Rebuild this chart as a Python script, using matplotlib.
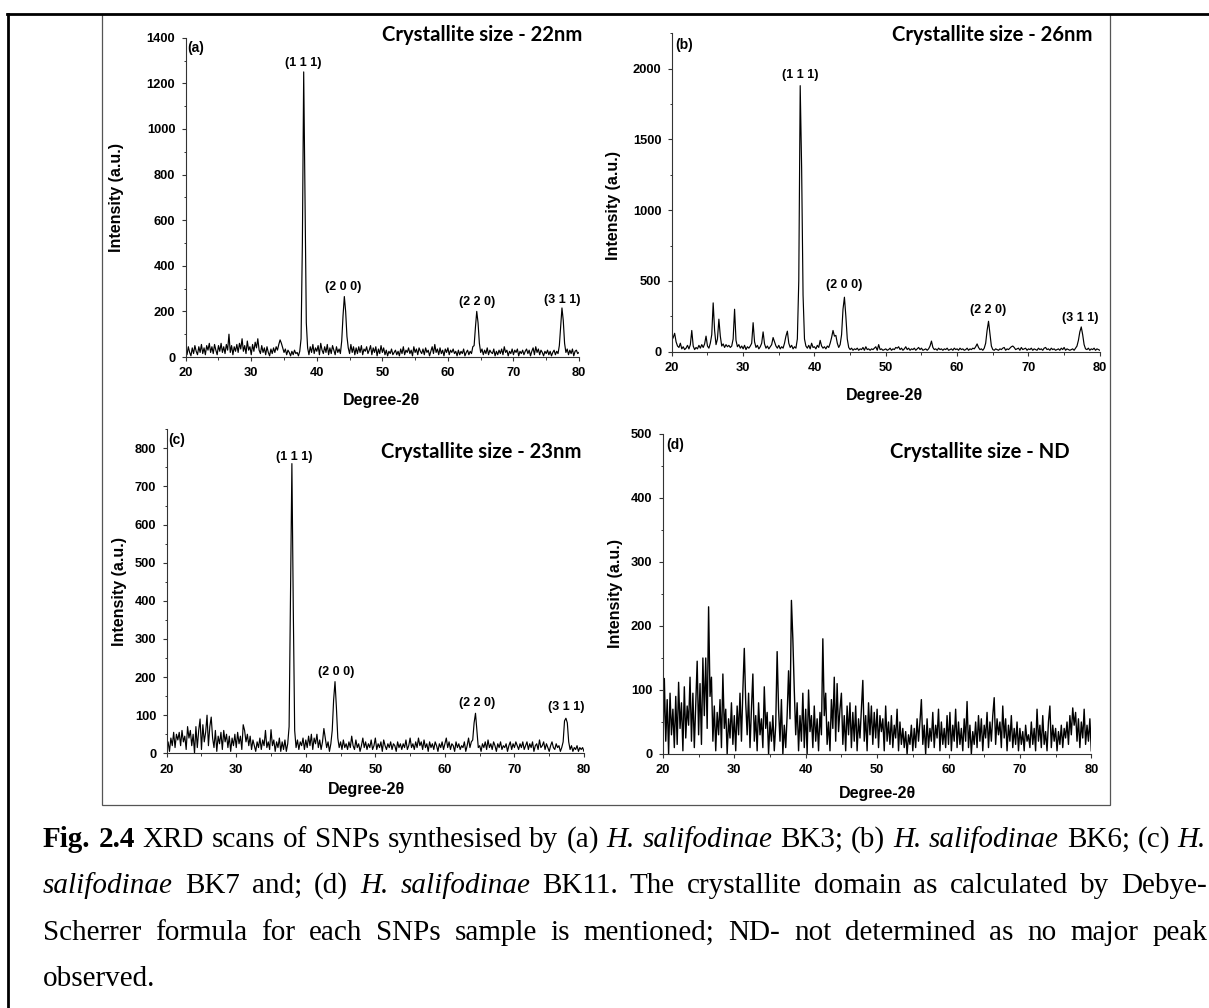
import numpy as np
import matplotlib
matplotlib.use('Agg')  # headless
import matplotlib.pyplot as plt
from matplotlib.lines import Line2D
from matplotlib.patches import Rectangle

# --- canvas ---
W, H, DPI = 1209, 1008, 100

# --- data: 2-theta grid (0.2 deg steps) and read-off intensities ---
TWO_THETA = np.round(np.arange(20.0, 80.01, 0.2), 1)

INT_A = [
    35, 10, 45, 20, 5, 40, 15, 50, 25, 10,
    45, 20, 55, 15, 40, 10, 50, 30, 60, 20,
    45, 15, 55, 30, 10, 50, 25, 60, 20, 45,
    15, 55, 30, 100, 20, 50, 10, 45, 25, 55,
    20, 60, 35, 80, 25, 50, 15, 70, 30, 45,
    10, 55, 25, 65, 40, 80, 30, 15, 50, 20,
    40, 10, 45, 20, 5, 35, 15, 40, 20, 45,
    30, 55, 75, 60, 40, 20, 35, 10, 30, 20,
    5, 25, 10, 30, 15, 20, 5, 25, 80, 500,
    1250, 700, 150, 40, 10, 45, 20, 55, 15, 40,
    25, 50, 10, 60, 30, 15, 45, 20, 55, 10,
    40, 15, 50, 30, 10, 45, 20, 35, 15, 70,
    180, 265, 200, 90, 40, 15, 55, 20, 45, 10,
    40, 15, 45, 20, 50, 10, 35, 25, 45, 15,
    30, 50, 10, 40, 20, 45, 5, 35, 15, 50,
    20, 40, 10, 30, 5, 25, 15, 35, 10, 20,
    30, 10, 25, 5, 35, 15, 45, 10, 30, 20,
    40, 15, 30, 5, 45, 20, 35, 10, 40, 25,
    15, 35, 10, 40, 20, 30, 5, 25, 45, 15,
    55, 20, 35, 10, 40, 15, 30, 5, 35, 20,
    40, 10, 30, 20, 35, 15, 25, 5, 30, 10,
    25, 15, 35, 5, 20, 30, 10, 25, 15, 45,
    50, 130, 200, 150, 60, 20, 35, 10, 30, 15,
    40, 10, 30, 20, 15, 35, 5, 25, 10, 30,
    15, 35, 10, 45, 20, 30, 5, 25, 15, 35,
    10, 30, 20, 35, 5, 25, 15, 30, 10, 25,
    35, 15, 30, 5, 25, 40, 10, 45, 20, 35,
    10, 30, 20, 5, 25, 15, 30, 10, 25, 5,
    20, 30, 10, 25, 15, 50, 130, 215, 160, 60,
    20, 35, 10, 30, 15, 35, 5, 25, 30, 15,
    20,
]

INT_B = [
    80, 100, 130, 70, 40, 30, 60, 20, 35, 15,
    25, 45, 20, 50, 150, 40, 15, 30, 20, 45,
    25, 50, 30, 55, 110, 40, 25, 60, 120, 345,
    150, 50, 90, 230, 110, 40, 55, 30, 50, 35,
    45, 30, 40, 90, 300, 80, 35, 50, 25, 40,
    20, 45, 15, 35, 25, 40, 60, 205, 70, 30,
    45, 20, 35, 60, 140, 55, 25, 40, 20, 35,
    50, 100, 70, 40, 25, 45, 20, 35, 25, 60,
    110, 145, 60, 30, 45, 20, 35, 25, 90, 500,
    1880, 1300, 400, 90, 40, 25, 45, 20, 60, 30,
    35, 20, 45, 30, 80, 40, 25, 35, 20, 40,
    30, 60, 100, 150, 110, 115, 60, 30, 50, 120,
    300, 385, 250, 90, 30, 15, 25, 10, 20, 15,
    25, 10, 20, 15, 30, 10, 35, 15, 20, 10,
    20, 15, 25, 35, 10, 50, 15, 20, 10, 15,
    20, 10, 15, 25, 10, 20, 15, 30, 25, 35,
    15, 25, 10, 20, 35, 15, 25, 10, 20, 15,
    25, 10, 20, 30, 15, 25, 10, 15, 20, 10,
    20, 40, 75, 30, 15, 20, 10, 25, 15, 20,
    10, 20, 15, 25, 10, 15, 20, 10, 25, 15,
    20, 10, 25, 15, 20, 10, 15, 25, 10, 20,
    15, 25, 20, 35, 55, 30, 15, 20, 10, 25,
    60, 150, 215, 130, 40, 15, 10, 20, 15, 10,
    20, 15, 25, 30, 10, 20, 15, 25, 35, 40,
    30, 15, 20, 25, 10, 30, 15, 20, 25, 10,
    20, 15, 25, 10, 20, 15, 10, 25, 15, 20,
    10, 25, 30, 15, 20, 10, 25, 15, 20, 10,
    15, 20, 10, 25, 15, 30, 10, 20, 15, 10,
    15, 20, 10, 25, 40, 80, 140, 175, 120, 50,
    20, 15, 25, 10, 20, 15, 25, 10, 20, 15,
    10,
]

INT_C = [
    10, 30, 5, 40, 20, 55, 15, 50, 35, 55,
    20, 60, 30, 45, 10, 70, 40, 60, 20, 50,
    0, 70, 15, 60, 90, 10, 75, 30, 55, 100,
    20, 70, 95, 40, 15, 60, 5, 45, 25, 55,
    10, 60, 30, 50, 15, 45, 5, 40, 20, 50,
    15, 55, 25, 45, 10, 75, 60, 30, 50, 20,
    45, 10, 35, 20, 5, 30, 15, 40, 10, 35,
    20, 60, 15, 30, 10, 62, 20, 35, 5, 30,
    15, 40, 5, 30, 10, 35, 5, 25, 70, 420,
    760, 380, 60, 15, 35, 10, 30, 20, 40, 10,
    35, 15, 45, 20, 50, 10, 40, 25, 50, 15,
    35, 10, 30, 65, 40, 15, 30, 5, 25, 60,
    140, 188, 120, 40, 15, 30, 10, 35, 15, 25,
    10, 30, 15, 45, 20, 10, 35, 15, 25, 5,
    20, 40, 15, 30, 10, 25, 15, 35, 10, 20,
    40, 10, 25, 15, 30, 5, 35, 20, 10, 25,
    15, 30, 10, 25, 20, 5, 30, 15, 25, 10,
    25, 15, 35, 10, 20, 40, 15, 25, 10, 30,
    15, 40, 20, 30, 10, 35, 15, 25, 5, 30,
    15, 25, 10, 30, 20, 5, 25, 15, 30, 10,
    25, 40, 15, 30, 10, 25, 20, 5, 30, 15,
    25, 10, 20, 15, 30, 5, 20, 40, 15, 30,
    35, 80, 105, 60, 15, 20, 5, 25, 15, 30,
    10, 35, 15, 25, 10, 30, 20, 5, 25, 15,
    30, 10, 20, 15, 25, 5, 20, 30, 10, 25,
    15, 30, 20, 10, 25, 15, 30, 10, 20, 30,
    10, 25, 15, 30, 5, 20, 25, 10, 35, 15,
    20, 30, 10, 25, 15, 5, 20, 30, 15, 10,
    25, 15, 20, 5, 15, 30, 85, 92, 80, 30,
    10, 20, 5, 15, 10, 20, 5, 15, 10, 15,
    5,
]

INT_D = [
    5, 118, 20, 85, 0, 95, 30, 70, 10, 90,
    15, 112, 40, 80, 5, 105, 25, 75, 45, 120,
    20, 95, 10, 80, 145, 30, 110, 15, 150, 60,
    150, 40, 230, 90, 120, 20, 75, 5, 65, 30,
    85, 10, 125, 40, 70, 0, 55, 25, 80, 15,
    60, 5, 75, 30, 95, 20, 100, 165, 80, 30,
    95, 10, 70, 125, 20, 60, 5, 80, 30, 55,
    10, 105, 40, 65, 0, 50, 20, 60, 5, 45,
    160, 70, 20, 85, 0, 45, 10, 60, 130, 55,
    240, 180, 100, 30, 80, 5, 60, 20, 95, 10,
    70, 0, 100, 35, 60, 10, 75, 20, 55, 5,
    65, 30, 180, 60, 95, 15, 50, 5, 85, 40,
    120, 20, 110, 35, 70, 95, 15, 60, 5, 75,
    30, 80, 10, 65, 20, 75, 5, 55, 25, 70,
    115, 20, 60, 5, 80, 30, 75, 15, 65, 25,
    70, 10, 60, 35, 55, 5, 75, 20, 50, 15,
    60, 10, 45, 25, 70, 5, 50, 15, 40, 10,
    35, 0, 30, 15, 45, 5, 40, 10, 55, 20,
    50, 85, 15, 45, 0, 55, 10, 40, 20, 65,
    10, 45, 25, 70, 5, 50, 15, 40, 10, 60,
    15, 65, 5, 45, 20, 70, 10, 50, 15, 40,
    5, 55, 20, 82, 10, 45, 0, 35, 15, 50,
    10, 60, 20, 55, 5, 45, 25, 65, 10, 50,
    20, 60, 88, 15, 55, 30, 50, 10, 75, 25,
    55, 5, 45, 20, 60, 10, 40, 15, 50, 5,
    40, 15, 35, 5, 45, 20, 30, 10, 50, 15,
    40, 5, 70, 20, 45, 10, 60, 15, 35, 5,
    50, 75, 10, 45, 20, 40, 5, 35, 15, 45,
    10, 40, 25, 50, 15, 60, 30, 72, 45, 65,
    20, 55, 10, 50, 25, 70, 15, 45, 20, 55,
    5,
]

PANEL_TAGS = ["(a)", "(b)", "(c)", "(d)"]
SIZE_TEXT = ["22nm", "26nm", "23nm", "ND"]
HKL = ["(1 1 1)", "(2 0 0)", "(2 2 0)", "(3 1 1)"]
# (2theta, intensity) where each hkl label sits
HKL_POS_A = [(37.9, 1289), (44.0, 305), (64.4, 242), (77.4, 250)]
HKL_POS_B = [(38.0, 1955), (44.2, 471), (64.4, 295), (77.3, 236)]
HKL_POS_C = [(38.3, 778), (44.4, 214), (64.6, 133), (77.4, 121)]

PANELS = [
    dict(y=INT_A, box=(185.7, 37.7, 579.0, 357.0), ymax=1400, major=200, minor=100,
         hkl=HKL_POS_A, title=(1.008, 1.008), tag=(0.004, 0.968),
         ylab=(-0.175, 0.50), xlab=(0.499, -0.135)),
    dict(y=INT_B, box=(671.8, 33.3, 1099.8, 351.7), ymax=2250, major=500, minor=250,
         hkl=HKL_POS_B, title=(0.984, 0.995), tag=(0.007, 0.963),
         ylab=(-0.136, 0.46), xlab=(0.498, -0.136)),
    dict(y=INT_C, box=(166.7, 429.3, 584.0, 753.3), ymax=850, major=100, minor=50,
         hkl=HKL_POS_C, title=(0.995, 0.930), tag=(0.004, 0.967),
         ylab=(-0.112, 0.50), xlab=(0.478, -0.113)),
    dict(y=INT_D, box=(662.9, 434.0, 1091.3, 754.0), ymax=500, major=100, minor=50,
         hkl=None, title=(0.950, 0.944), tag=(0.008, 0.966),
         ylab=(-0.111, 0.50), xlab=(0.500, -0.122)),
]

SANS = 'Liberation Sans'
TITLE_FONT = 'Lato'
SERIF = 'Liberation Serif'
CAP_FS = 21

fig = plt.figure(figsize=(W / DPI, H / DPI), dpi=DPI)
fig.patch.set_facecolor('white')

for i, p in enumerate(PANELS):
    x0, y0, x1, y1 = p['box']
    ax = fig.add_axes([x0 / W, 1 - y1 / H, (x1 - x0) / W, (y1 - y0) / H])
    lw = 1.0 if i == 3 else 0.85
    ax.plot(TWO_THETA, p['y'], color='black', lw=lw)

    ax.set_xlim(20, 80)
    ax.set_ylim(0, p['ymax'])
    ax.set_xticks(np.arange(20, 81, 10))
    ax.set_xticks(np.arange(25, 80, 10), minor=True)
    ax.set_yticks(np.arange(0, p['ymax'] + 1, p['major']))
    ax.set_yticks(np.arange(p['minor'], p['ymax'] + 1, p['major']), minor=True)

    for side in ('top', 'right'):
        ax.spines[side].set_visible(False)
    for side in ('left', 'bottom'):
        ax.spines[side].set_linewidth(0.8)
        ax.spines[side].set_color('#333333')
    ax.tick_params(which='major', direction='out', length=3, width=0.8,
                   color='#333333', pad=4.5)
    ax.tick_params(which='minor', direction='out', length=1.8, width=0.7,
                   color='#333333')
    for lab in ax.get_xticklabels() + ax.get_yticklabels():
        lab.set_fontfamily(SANS)
        lab.set_fontweight('bold')
        lab.set_fontsize(9.3)

    ax.set_ylabel('Intensity (a.u.)', family=SANS, fontweight='bold', fontsize=11.5)
    ax.yaxis.label.set_verticalalignment('center')
    ax.yaxis.set_label_coords(*p['ylab'])
    ax.set_xlabel('Degree-2\u03b8', family=SANS, fontweight='bold', fontsize=11.5)
    ax.xaxis.label.set_verticalalignment('center')
    ax.xaxis.set_label_coords(*p['xlab'])

    ax.text(p['title'][0], p['title'][1], 'Crystallite size - ' + SIZE_TEXT[i],
            transform=ax.transAxes, ha='right', va='center',
            family=TITLE_FONT, fontweight='bold', fontsize=14.6, clip_on=False)
    ax.text(p['tag'][0], p['tag'][1], PANEL_TAGS[i], transform=ax.transAxes,
            ha='left', va='center', family=SANS, fontweight='bold', fontsize=10)

    if p['hkl'] is not None:
        for name, (hx, hy) in zip(HKL, p['hkl']):
            ax.text(hx, hy, name, ha='center', va='center', family=SANS,
                    fontweight='bold', fontsize=9)

# --- page frame: thick table border + thin image box ---
fig.add_artist(Line2D([7 / W, 1.0], [1 - 14 / H, 1 - 14 / H], color='black',
                      lw=2.0, transform=fig.transFigure))
fig.add_artist(Line2D([8 / W, 8 / W], [0.0, 1 - 14 / H], color='black',
                      lw=2.0, transform=fig.transFigure))
fig.add_artist(Rectangle((102 / W, 1 - 805 / H), (1110 - 102) / W, (805 - 14) / H,
                         fill=False, edgecolor='#555555', lw=0.9,
                         transform=fig.transFigure))

# --- caption, justified word by word ---
CAPTION = [
    ([("Fig.", 'b'), ("2.4", 'b'), ("XRD", ''), ("scans", ''), ("of", ''), ("SNPs", ''),
      ("synthesised", ''), ("by", ''), ("(a)", ''), ("H.", 'i'), ("salifodinae", 'i'),
      ("BK3;", ''), ("(b)", ''), ("H.", 'i'), ("salifodinae", 'i'), ("BK6;", ''),
      ("(c)", ''), ("H.", 'i')], 847, 1206, True),
    ([("salifodinae", 'i'), ("BK7", ''), ("and;", ''), ("(d)", ''), ("H.", 'i'),
      ("salifodinae", 'i'), ("BK11.", ''), ("The", ''), ("crystallite", ''),
      ("domain", ''), ("as", ''), ("calculated", ''), ("by", ''), ("Debye-", '')],
     893, 1207, True),
    ([("Scherrer", ''), ("formula", ''), ("for", ''), ("each", ''), ("SNPs", ''),
      ("sample", ''), ("is", ''), ("mentioned;", ''), ("ND-", ''), ("not", ''),
      ("determined", ''), ("as", ''), ("no", ''), ("major", ''), ("peak", '')],
     940, 1207, True),
    ([("observed.", '')], 986, None, False),
]

renderer = fig.canvas.get_renderer()
X_LEFT = 43
for words, base_y, x_right, justify in CAPTION:
    arts = []
    for word, style in words:
        t = fig.text(0, 1 - base_y / H, word, family=SERIF, fontsize=CAP_FS,
                     va='baseline', ha='left',
                     fontweight='bold' if style == 'b' else 'normal',
                     fontstyle='italic' if style == 'i' else 'normal')
        arts.append(t)
    widths = [t.get_window_extent(renderer).width for t in arts]
    if justify and len(arts) > 1:
        gap = (x_right - X_LEFT - sum(widths)) / (len(arts) - 1)
    else:
        gap = 0.25 * CAP_FS * DPI / 72
    x = X_LEFT
    for t, w in zip(arts, widths):
        t.set_x(x / W)
        x += w + gap

fig.savefig('out.png', dpi=DPI, facecolor='white')
plt.close(fig)
